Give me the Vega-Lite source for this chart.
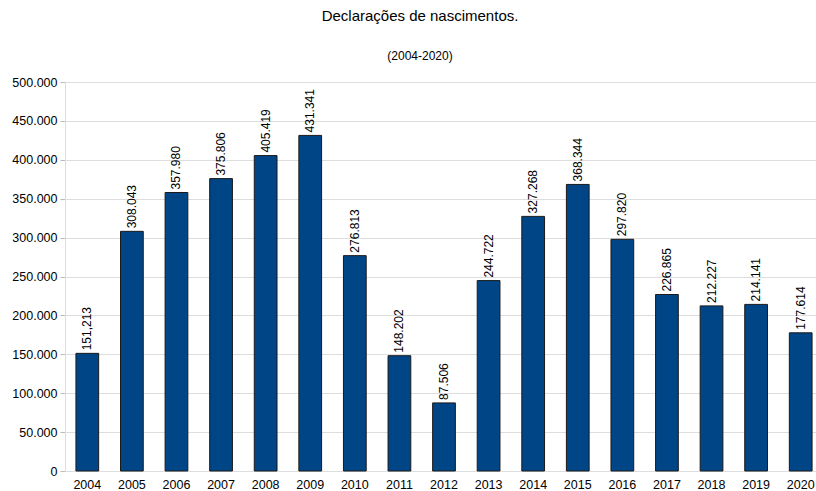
{
  "$schema": "https://vega.github.io/schema/vega-lite/v6.json",
  "autosize": "none",
  "padding": {"left": 65, "top": 82, "right": 0, "bottom": 20},
  "width": 758,
  "height": 389,
  "background": "white",
  "title": {
    "text": "Declarações de nascimentos.",
    "subtitle": "(2004-2020)",
    "anchor": "middle",
    "frame": "group",
    "dx": -24,
    "font": "Liberation Sans",
    "fontSize": 15,
    "fontWeight": "normal",
    "color": "black",
    "subtitleFont": "Liberation Sans",
    "subtitleFontSize": 12,
    "subtitleColor": "black",
    "subtitlePadding": 27,
    "offset": 14
  },
  "config": {
    "view": {"stroke": null},
    "axis": {"labelFont": "Liberation Sans", "labelFontSize": 12.5, "labelColor": "black"}
  },
  "data": {
    "values": [
      {"year": "2004", "value": 151213, "label": "151,213"},
      {"year": "2005", "value": 308043, "label": "308.043"},
      {"year": "2006", "value": 357980, "label": "357.980"},
      {"year": "2007", "value": 375806, "label": "375.806"},
      {"year": "2008", "value": 405419, "label": "405.419"},
      {"year": "2009", "value": 431341, "label": "431.341"},
      {"year": "2010", "value": 276813, "label": "276.813"},
      {"year": "2011", "value": 148202, "label": "148.202"},
      {"year": "2012", "value": 87506, "label": "87.506"},
      {"year": "2013", "value": 244722, "label": "244.722"},
      {"year": "2014", "value": 327268, "label": "327.268"},
      {"year": "2015", "value": 368344, "label": "368.344"},
      {"year": "2016", "value": 297820, "label": "297.820"},
      {"year": "2017", "value": 226865, "label": "226.865"},
      {"year": "2018", "value": 212227, "label": "212.227"},
      {"year": "2019", "value": 214141, "label": "214.141"},
      {"year": "2020", "value": 177614, "label": "177.614"}
    ]
  },
  "encoding": {
    "x": {
      "field": "year", "type": "ordinal",
      "scale": {"paddingInner": 0.49, "paddingOuter": 0.245},
      "axis": {"title": null, "labelAngle": 0, "ticks": false, "domain": false, "labelPadding": 7}
    },
    "y": {
      "field": "value", "type": "quantitative",
      "scale": {"domain": [0, 500000], "nice": false},
      "axis": {
        "title": null, "values": [0,50000,100000,150000,200000,250000,300000,350000,400000,450000,500000],
        "labelExpr": "replace(format(datum.value, ','), /,/g, '.')",
        "grid": true, "gridColor": "#dddddd", "gridWidth": 1,
        "domain": true, "domainColor": "#dddddd",
        "tickColor": "#bbbbbb", "tickSize": 5, "labelPadding": 3
      }
    }
  },
  "layer": [
    {"mark": {"type": "bar", "color": "#004586", "stroke": "#1a1a1a", "strokeWidth": 1}},
    {
      "mark": {"type": "text", "angle": -90, "align": "left", "baseline": "middle", "dx": 3, "font": "Liberation Sans", "fontSize": 12, "color": "black"},
      "encoding": {"text": {"field": "label"}}
    }
  ]
}
